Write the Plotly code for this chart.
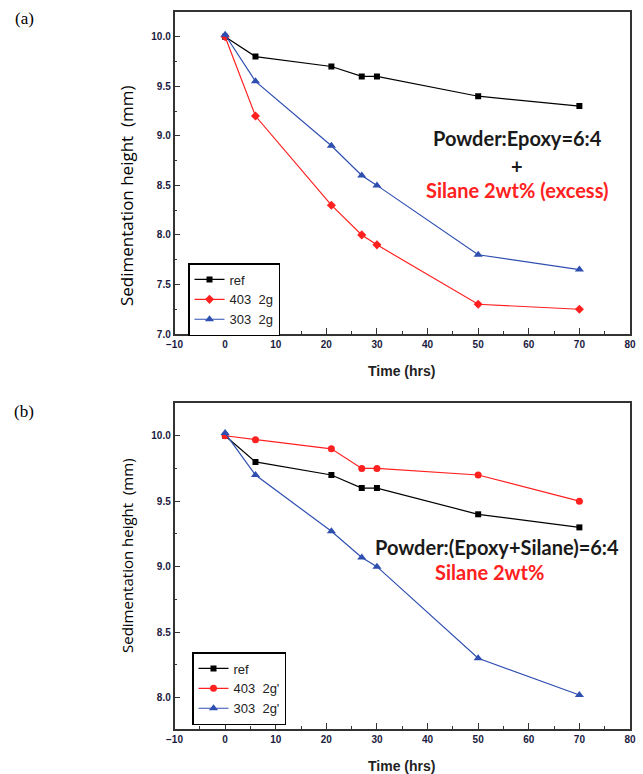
import plotly.graph_objects as go

# ---- data ----
time_hrs = [0, 6, 21, 27, 30, 50, 70]

a_ref = [10.0, 9.8, 9.7, 9.6, 9.6, 9.4, 9.3]
a_403 = [10.0, 9.2, 8.3, 8.0, 7.9, 7.3, 7.25]
a_303 = [10.02, 9.55, 8.9, 8.6, 8.5, 7.8, 7.65]

b_ref = [10.0, 9.8, 9.7, 9.6, 9.6, 9.4, 9.3]
b_403 = [10.0, 9.97, 9.9, 9.75, 9.75, 9.7, 9.5]
b_303 = [10.02, 9.7, 9.27, 9.07, 9.0, 8.3, 8.02]

names_a = ["ref", "403  2g", "303  2g"]
names_b = ["ref", "403  2g'", "303  2g'"]

BLACK = "#000000"
RED = "#ff2020"
BLUE = "#2f4fb0"

W, H = 643, 774

fig = go.Figure()

def add(x, y, name, color, symbol, xa, ya, legend, size):
    fig.add_trace(go.Scatter(
        x=x, y=y, name=name, mode="lines+markers",
        line=dict(color=color, width=1.2),
        marker=dict(color=color, symbol=symbol, size=size),
        xaxis=xa, yaxis=ya, legend=legend))

add(time_hrs, a_ref, names_a[0], BLACK, "square", "x", "y", "legend", 6)
add(time_hrs, a_403, names_a[1], RED, "diamond", "x", "y", "legend", 7)
add(time_hrs, a_303, names_a[2], BLUE, "triangle-up", "x", "y", "legend", 8)

add(time_hrs, b_ref, names_b[0], BLACK, "square", "x2", "y2", "legend2", 6)
add(time_hrs, b_403, names_b[1], RED, "circle", "x2", "y2", "legend2", 7)
add(time_hrs, b_303, names_b[2], BLUE, "triangle-up", "x2", "y2", "legend2", 8)

xdom = [174.5 / W, 630 / W]
ydom_a = [1 - 334 / H, 1 - 12 / H]
ydom_b = [1 - 729 / H, 1 - 403 / H]

tickfont = dict(family="Liberation Sans", size=10, color="#1a1a40", weight="bold")

def xaxis(domain_anchor):
    return dict(domain=xdom, anchor=domain_anchor, range=[-10, 80], dtick=10, tick0=0,
                showline=True, linecolor="#333", linewidth=1.5, mirror=True,
                ticks="inside", ticklen=6, tickcolor="#333", tickfont=tickfont,
                minor=dict(ticks="inside", ticklen=3, dtick=5, tickcolor="#333"),
                showgrid=False, zeroline=False, automargin=False)

def yaxis(domain, rng, anchor):
    return dict(domain=domain, anchor=anchor, range=rng, dtick=0.5, tick0=7.0,
                tickformat=".1f", showline=True, linecolor="#333", linewidth=1.5, mirror=True,
                ticks="inside", ticklen=6, tickcolor="#333", tickfont=tickfont,
                minor=dict(ticks="inside", ticklen=3, dtick=0.25, tickcolor="#333"),
                showgrid=False, zeroline=False, automargin=False)

legend_common = dict(bgcolor="white", bordercolor="black", borderwidth=1.5,
                     font=dict(family="Liberation Sans", size=13, color="#222"),
                     xanchor="left", yanchor="top", tracegroupgap=0, itemwidth=30)

fig.update_layout(
    width=W, height=H, margin=dict(l=0, r=0, t=0, b=0, autoexpand=False),
    paper_bgcolor="white", plot_bgcolor="white", showlegend=True,
    xaxis=xaxis("y"), yaxis=yaxis(ydom_a, [7.0, 10.25], "x"),
    xaxis2=xaxis("y2"), yaxis2=yaxis(ydom_b, [7.76, 10.25], "x2"),
    legend=dict(x=188 / W, y=1 - 263 / H, **legend_common),
    legend2=dict(x=192 / W, y=1 - 652 / H, **legend_common),
)

def ann(text, x, y, size, color="black", family="Lato", bold=False, angle=0):
    fig.add_annotation(text=text, x=x / W, y=1 - y / H, xref="paper", yref="paper",
                       showarrow=False, xanchor="center", yanchor="middle", textangle=angle,
                       font=dict(family=family, size=size, color=color,
                                 weight="bold" if bold else "normal"))

ann("(a)", 24, 18, 17, family="Liberation Serif")
ann("(b)", 24, 411, 17, family="Liberation Serif")
ann("Sedimentation height  (mm)", 127, 196, 17, family="Open Sans", angle=-90)
ann("Sedimentation height  (mm)", 127, 556, 15, family="Open Sans", angle=-90)
ann("Time (hrs)", 401, 371, 14, family="Liberation Sans", bold=True, color="#222")
ann("Time (hrs)", 401, 766, 14, family="Liberation Sans", bold=True, color="#222")

ann("Powder:Epoxy=6:4", 517, 138, 20, color="#1a1a1a", bold=True)
ann("+", 517, 166, 20, color="#1a1a1a", bold=True)
ann("Silane 2wt% (excess)", 517, 190, 20, color=RED, bold=True)
ann("Powder:(Epoxy+Silane)=6:4", 497, 547, 20, color="#1a1a1a", bold=True)
ann("Silane 2wt%", 490, 572, 20, color=RED, bold=True)

fig.write_html("out.html", config={"displayModeBar": False},
               post_script="document.body.style.margin='0';document.body.style.overflow='hidden';")
